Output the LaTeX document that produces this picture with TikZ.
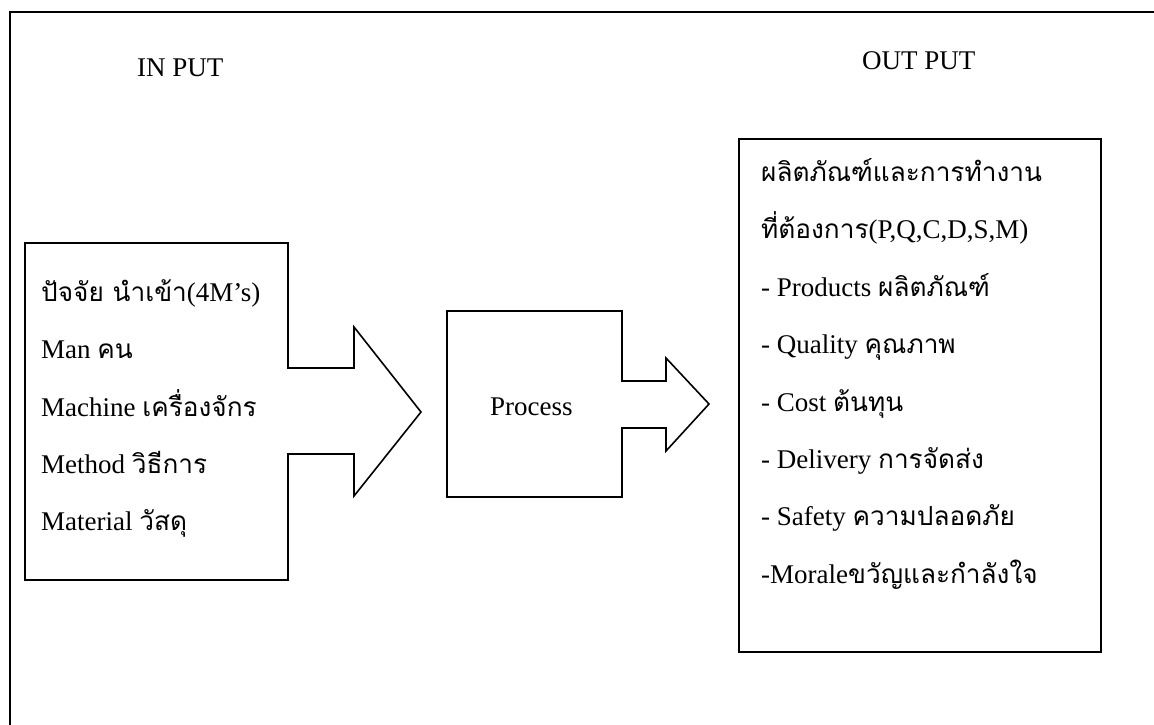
\documentclass[tikz,border=0pt]{standalone}
\usepackage{fontspec}
\setmainfont{Liberation Serif}
\newfontfamily\thaif[Script=Thai,Scale=0.97]{Loma}
\begin{document}
\begin{tikzpicture}[x=1pt,y=-1pt,
  txt/.style={anchor=base west, inner sep=0pt, font=\fontsize{27}{32}\selectfont},
  outline/.style={draw, line width=1.6pt, line join=miter},
  frame/.style={draw, line width=2.4pt}]
\useasboundingbox (0,0) rectangle (1154,724);
\clip (0,0) rectangle (1154,724);

% outer frame (runs past the right and bottom edges)
\draw[frame] (10,12) rectangle (1180,750);

% headings
\node[txt] (inhead) at (137,76) {IN PUT};
\node[txt] (outhead) at (862,69) {OUT PUT};

% input box with its arrow
\draw[outline] (25,243) -- (288,243) -- (288,368) -- (354,368) -- (354,327)
  -- (421,412) -- (354,496) -- (354,454) -- (288,454) -- (288,580)
  -- (25,580) -- cycle;
\node[txt] (in1) at (41,301) {{\thaif ปัจจัย นำเข้า}(4M’s)};
\node[txt] (in2) at (41,358) {Man {\thaif คน}};
\node[txt] (in3) at (41,416) {Machine {\thaif เครื่องจักร}};
\node[txt] (in4) at (41,473) {Method {\thaif วิธีการ}};
\node[txt] (in5) at (41,530) {Material {\thaif วัสดุ}};

% process box with its arrow
\draw[outline] (447,311) -- (622,311) -- (622,381) -- (666,381) -- (666,358)
  -- (709,404) -- (666,451) -- (666,428) -- (622,428) -- (622,497)
  -- (447,497) -- cycle;
\node[txt] (proc) at (490,415) {Process};

% output box
\draw[outline] (739,139) rectangle (1101,652);
\node[txt] (out1) at (761,181) {{\thaif ผลิตภัณฑ์และการทำงาน}};
\node[txt] (out2) at (761,238) {{\thaif ที่ต้องการ}(P,Q,C,D,S,M)};
\node[txt] (out3) at (761,296) {- Products {\thaif ผลิตภัณฑ์}};
\node[txt] (out4) at (761,353) {- Quality {\thaif คุณภาพ}};
\node[txt] (out5) at (761,411) {- Cost {\thaif ต้นทุน}};
\node[txt] (out6) at (761,468) {- Delivery {\thaif การจัดส่ง}};
\node[txt] (out7) at (761,525) {- Safety {\thaif ความปลอดภัย}};
\node[txt] (out8) at (761,583) {-Morale{\thaif ขวัญและกำลังใจ}};
\end{tikzpicture}
\end{document}
